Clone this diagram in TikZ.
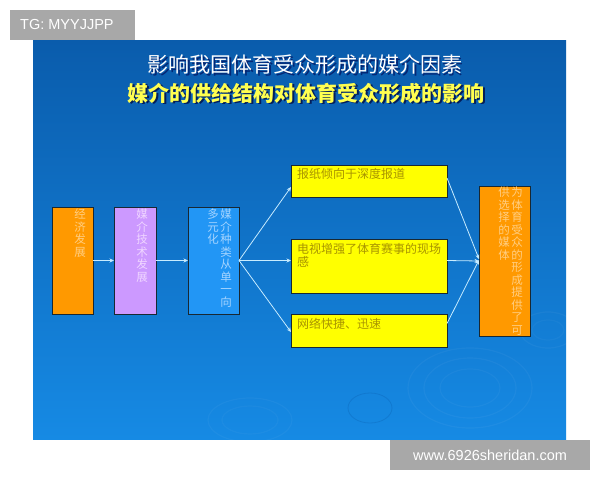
\documentclass[tikz,border=0pt]{standalone}
\usepackage{fontspec}
\setmainfont{Liberation Sans}
\newfontfamily\cjk{Noto Sans CJK SC}
\usetikzlibrary{arrows.meta,calc}
\definecolor{bgtop}{RGB}{10,92,172}
\definecolor{bgbot}{RGB}{22,138,228}
\definecolor{orangeA}{RGB}{255,153,0}
\definecolor{purpleA}{RGB}{204,153,255}
\definecolor{blueA}{RGB}{34,150,245}
\definecolor{yellowA}{RGB}{255,255,0}
\definecolor{edgeA}{RGB}{25,40,50}
\definecolor{arrowc}{RGB}{200,236,255}
\definecolor{txtOr}{RGB}{255,206,130}
\definecolor{txtPu}{RGB}{240,214,255}
\definecolor{txtBl}{RGB}{165,212,255}
\definecolor{txtYe}{RGB}{168,148,0}
\definecolor{wmgray}{RGB}{168,168,168}
\definecolor{titleY}{RGB}{255,255,80}
\begin{document}
\begin{tikzpicture}[x=1pt,y=-1pt,
  box/.style={draw=edgeA,line width=0.9pt,inner sep=0pt,outer sep=0pt,anchor=north west},
  vtext/.style={font=\cjk\fontsize{11.5}{12.5}\selectfont,align=center,inner sep=0pt,anchor=north},
  htext/.style={font=\cjk\fontsize{12}{13}\selectfont,align=left,inner sep=0pt,anchor=west,text=txtYe},
  conn/.style={draw=arrowc,line width=0.8pt,-{Stealth[length=4.5pt,width=4pt]}},
  wm/.style={font=\fontsize{14.5}{16}\selectfont,text=white,inner sep=0pt}]
\useasboundingbox (0,0) rectangle (600,480);
\fill[white] (0,0) rectangle (600,480);
% background panel
\shade[top color=bgtop,bottom color=bgbot] (33,40) rectangle (566,439);
% ripples
\begin{scope}[white,line width=1.2pt]
\draw[opacity=0.04] (470,388) ellipse (62 and 40);
\draw[opacity=0.04] (470,388) ellipse (46 and 30);
\draw[opacity=0.035] (470,388) ellipse (30 and 19);
\draw[opacity=0.035] (250,420) ellipse (42 and 22);
\draw[opacity=0.03] (250,420) ellipse (28 and 14);
\draw[opacity=0.04] (548,330) ellipse (28 and 18);
\draw[opacity=0.03] (548,330) ellipse (16 and 10);
\end{scope}
\draw[bgtop,opacity=0.3,line width=0.8pt] (370,408) ellipse (22 and 15);
% titles
\node[font=\cjk\fontsize{21}{23}\selectfont,text=black!70!blue,opacity=0.6] at (306.5,66.5) {影响我国体育受众形成的媒介因素};
\node[font=\cjk\fontsize{21}{23}\selectfont,text=white] (t1) at (305,65) {影响我国体育受众形成的媒介因素};
\node[font=\cjk\bfseries\fontsize{21}{23}\selectfont,text=black!80!blue,opacity=0.7] at (307.5,94.5) {媒介的供给结构对体育受众形成的影响};
\node[font=\cjk\bfseries\fontsize{21}{23}\selectfont,text=titleY] (t2) at (306,93) {媒介的供给结构对体育受众形成的影响};
% boxes
\node[box,fill=orangeA,minimum width=41pt,minimum height=107pt] (eco) at (52,207) {};
\node[box,fill=purpleA,minimum width=42pt,minimum height=107pt] (tech) at (114,207) {};
\node[box,fill=blueA,minimum width=51pt,minimum height=107pt] (kind) at (188,207) {};
\node[box,fill=yellowA,minimum width=156pt,minimum height=32pt] (y1) at (291,165) {};
\node[box,fill=yellowA,minimum width=156pt,minimum height=54pt] (y2) at (291,239) {};
\node[box,fill=yellowA,minimum width=156pt,minimum height=33pt] (y3) at (291,314) {};
\node[box,fill=orangeA,minimum width=51pt,minimum height=150pt] (res) at (479,186) {};
% texts
\node[vtext,text=txtOr] (ecoT) at (80,209) {经\\济\\发\\展};
\node[vtext,text=txtPu] (techT) at (142,209) {媒\\介\\技\\术\\发\\展};
\node[vtext,text=txtBl] (kindR) at (226,209) {媒\\介\\种\\类\\从\\单\\一\\向};
\node[vtext,text=txtBl] (kindL) at (213,209) {多\\元\\化};
\node[vtext,text=txtOr] (resR) at (517,187) {为\\体\\育\\受\\众\\的\\形\\成\\提\\供\\了\\可};
\node[vtext,text=txtOr] (resL) at (504,187) {供\\选\\择\\的\\媒\\体};
\node[htext] (y1T) at (297,174) {报纸倾向于深度报道};
\node[htext,anchor=north west] (y2T) at (297,243) {电视增强了体育赛事的现场\\感};
\node[htext] (y3T) at (297,324) {网络快捷、迅速};
% connectors
\draw[conn] (eco.east |- kind.east) -- (tech.west |- kind.east);
\draw[conn] (tech.east |- kind.east) -- (kind.west);
\draw[conn] (kind.east) -- ($(y1.south west)+(0,-10)$);
\draw[conn] (kind.east) -- (y2.west |- kind.east);
\draw[conn] (kind.east) -- ($(y3.west)+(0,1.5)$);
\draw[conn] ($(y1.east)+(0,-3)$) -- ($(res.west)+(0,-2)$);
\draw[conn] (y2.east |- kind.east) -- (res.west);
\draw[conn] ($(y3.east)+(0,-7)$) -- ($(res.west)+(0,-1)$);
% watermarks
\node[fill=wmgray,minimum width=125pt,minimum height=30pt,inner sep=0pt,anchor=north west] (tg) at (10,10) {};
\node[wm,anchor=west] (tgT) at (20,25) {TG: MYYJJPP};
\node[fill=wmgray,minimum width=200pt,minimum height=30pt,inner sep=0pt,anchor=north west] (www) at (390,440) {};
\node[wm] (wwwT) at (490,455) {www.6926sheridan.com};
\end{tikzpicture}
\end{document}
